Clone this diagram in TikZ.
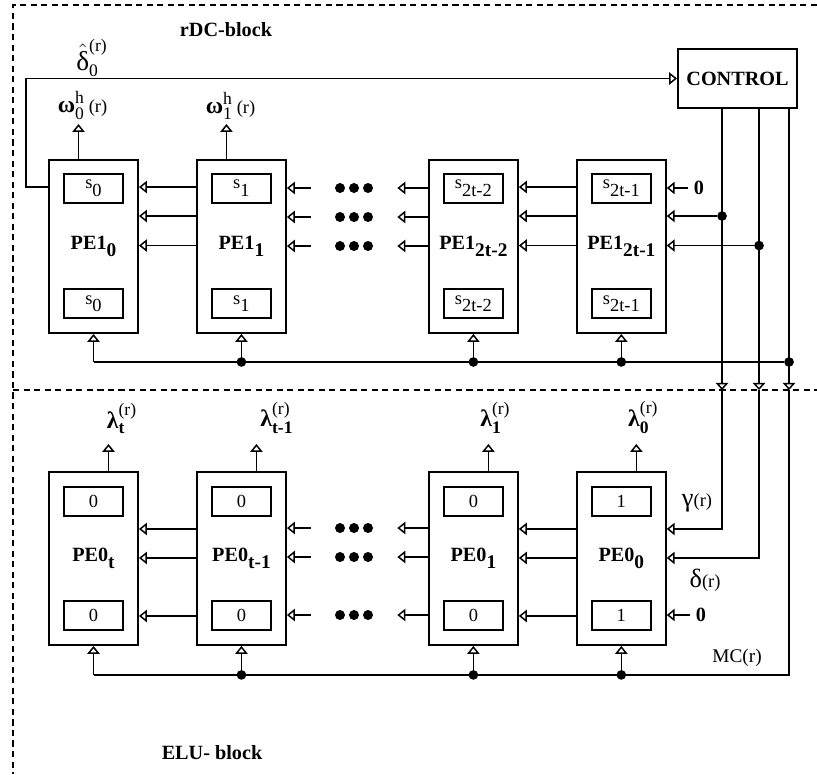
\documentclass[tikz,border=0pt]{standalone}
\usepackage{amsmath}
\usepackage{fontspec}
\setmainfont{Liberation Serif}
\usetikzlibrary{arrows.meta,positioning,calc}

\newcommand{\sreg}[1]{s\raisebox{-0.4em}{#1}}
\newcommand{\pesub}[1]{\raisebox{-0.35em}{\fontsize{11}{13}\selectfont#1}}
\newcommand{\scr}[1]{\text{\fontsize{10}{12}\selectfont#1}}

\begin{document}
\begin{tikzpicture}[
  x=0.2mm, y=-0.2mm,
  node distance=11.4mm and 11.4mm,
  pe/.style={draw,line width=1.1pt,minimum width=17.8mm,minimum height=34.6mm,inner sep=0pt,font=\bfseries\fontsize{11.5}{13}\selectfont},
  cell/.style={draw,line width=0.9pt,minimum width=11.8mm,minimum height=5.8mm,inner sep=0pt,font=\fontsize{10.5}{12}\selectfont},
  ctlbox/.style={draw,line width=1.1pt,minimum width=23.8mm,minimum height=11.8mm,inner sep=0pt,font=\bfseries\fontsize{11.5}{13}\selectfont},
  arr/.style={-{Triangle[open,length=4.5pt,width=7pt]},line width=0.85pt},
  darr/.style={-{Triangle[open,length=4pt,width=7pt]},line width=0.85pt},
  gap/.style={minimum width=17.2mm,minimum height=3mm,inner sep=0pt,
    path picture={\foreach \k in {-1,0,1} \fill ([xshift=\k*2.8mm]path picture bounding box.center) circle (1mm);}},
  jdot/.style={circle,fill,inner sep=0pt,minimum size=5.5pt},
  blk/.style={line width=0.6pt,dash pattern=on 3.5pt off 2.5pt},
  lab/.style={inner sep=1pt,font=\bfseries\fontsize{11.5}{13}\selectfont},
  greek/.style={inner sep=0pt,font=\fontsize{13.5}{15}\selectfont},
  note/.style={inner sep=0pt,font=\fontsize{11}{13}\selectfont}
]
  \useasboundingbox (0,0) rectangle (817,774);

  % block borders
  \draw[blk] (817,5) -- (13,5) -- (13,774);
  \coordinate (mid) at (0,390);
  \draw[blk] (13,390) -- (817,390);
  \node[lab] (rdc) at (226,30) {rDC-block};
  \node[lab] (elu) at (212,753) {ELU- block};

  % rDC row
  \node[pe] (p10) at (93.5,246.5) {PE1\pesub{0}};
  \node[pe, right=of p10] (p11) {PE1\pesub{1}};
  \node[pe, right=28.2mm of p11] (p12) {PE1\pesub{2t-2}};
  \node[pe, right=of p12] (p13) {PE1\pesub{2t-1}};
  \foreach \n/\v in {p10/0,p11/1,p12/2t-2,p13/2t-1}{
    \node[cell, below=2.8mm of \n.north] (\n-a) {\sreg{\v}};
    \node[cell, above=3mm of \n.south] (\n-b) {\sreg{\v}};
  }
  \node[ctlbox] (ctl) at (737.5,78.5) {CONTROL};

  % ELU row
  \node[pe, below=27.4mm of p10] (p0t) {PE0\pesub{t}};
  \node[pe, right=of p0t] (p0s) {PE0\pesub{t-1}};
  \node[pe, right=28.2mm of p0s] (p01) {PE0\pesub{1}};
  \node[pe, right=of p01] (p00) {PE0\pesub{0}};
  \foreach \n/\v in {p0t/0,p0s/0,p01/0,p00/1}{
    \node[cell, below=3mm of \n.north] (\n-a) {\v};
    \node[cell, above=3mm of \n.south] (\n-b) {\v};
  }

  % links between neighbours
  \foreach \a/\b in {p11/p10,p13/p12}
    \foreach \d in {5.6,11.4,17.3}
      \draw[arr] ([yshift=-\d mm]\a.north west) -- ([yshift=-\d mm]\b.north east);
  \foreach \a/\b in {p0s/p0t,p00/p01}
    \foreach \d in {11.6,17.4,29}
      \draw[arr] ([yshift=-\d mm]\a.north west) -- ([yshift=-\d mm]\b.north east);
  \foreach \y [count=\i] in {188,217,246}{
    \node[gap] (ga\i) at (354,\y) {};
    \draw[arr] (ga\i.west) -- (ga\i.west -| p11.east);
    \draw[arr] (ga\i.east -| p12.west) -- (ga\i.east);
  }
  \foreach \y [count=\i] in {528,557,615}{
    \node[gap] (gb\i) at (354,\y) {};
    \draw[arr] (gb\i.west) -- (gb\i.west -| p0s.east);
    \draw[arr] (gb\i.east -| p01.west) -- (gb\i.east);
  }

  % outputs
  \foreach \n/\i in {p10/0,p11/1}{
    \coordinate (w\i) at ([xshift=-3mm,yshift=7mm]\n.north);
    \draw[arr] (w\i |- \n.north) -- (w\i);
    \node[greek, anchor=south west, xshift=-4.2mm, yshift=0.8mm] (lw\i) at (w\i)
      {$\text{\textbf{ω}}^{\scr{h}}_{\scr{\i}}$\,{\fontsize{10.5}{12}\selectfont(r)}};
  }
  \foreach \n/\s/\dx in {p0t/t/2.7,p0s/t-1/4.1,p01/1/1.4,p00/0/1.4}{
    \coordinate (l\n) at ([xshift=3mm,yshift=5.4mm]\n.north);
    \draw[arr] (l\n |- \n.north) -- (l\n);
    \node[greek, above=2mm of l\n, xshift=\dx mm] (ll\n)
      {$\text{\textbf{λ}}_{\scr{\textbf{\s}}}^{\scr{(r)}}$};
  }

  % feedback to control
  \draw[arr] ([yshift=-5.6mm]p10.north west) -- ++(-4.4mm,0) |- (ctl.west);
  \node[greek, font=\fontsize{15.5}{17}\selectfont] (dhat) at (92,58)
    {$\hat{\text{δ}}_{\scr{0}}^{\scr{(r)}}$};

  % control lines
  \coordinate (c1) at ([xshift=9mm]ctl.south west);
  \coordinate (c2) at ([xshift=16.4mm]ctl.south west);
  \coordinate (c3) at ([xshift=22.4mm]ctl.south west);
  \coordinate (i1) at ([yshift=-11.4mm]p13.north east);
  \coordinate (i2) at ([yshift=-17.3mm]p13.north east);
  \coordinate (k1) at ([yshift=-11.6mm]p00.north east);
  \coordinate (k2) at ([yshift=-17.4mm]p00.north east);
  \foreach \c in {c1,c2,c3}
    \draw[darr] (\c) -- (\c |- mid);
  \node[jdot] (j1) at (c1 |- i1) {};
  \node[jdot] (j2) at (c2 |- i2) {};
  \draw[arr] (j1) -- (i1);
  \draw[arr] (j2) -- (i2);
  \draw[arr] (c1 |- mid) -- (c1 |- k1) -- (k1);
  \draw[arr] (c2 |- mid) -- (c2 |- k2) -- (k2);
  \node[lab, inner sep=3pt] (z1) at (699,188) {0};
  \draw[arr] (z1) -- (z1 -| p13.east);
  \node[lab, inner sep=3pt] (z2) at (701,615) {0};
  \draw[arr] (z2) -- (z2 -| p00.east);
  \node[note] (gam) at (697,503) {\fontsize{15}{16}\selectfont γ\fontsize{10.5}{11}\selectfont(r)};
  \node[note] (del) at (705,580) {\fontsize{15}{16}\selectfont δ\fontsize{10.5}{11}\selectfont(r)};

  % buses
  \coordinate (ub) at ([yshift=-5.6mm]p10.south);
  \coordinate (lb) at ([yshift=-5.8mm]p0t.south);
  \node[jdot] (j3) at (c3 |- ub) {};
  \draw[line width=0.85pt] (ub) -- (j3);
  \draw[line width=0.85pt] (c3 |- mid) -- (c3 |- lb) -- (lb);
  \foreach \n in {p10,p11,p12,p13}
    \draw[arr] (\n.south |- ub) -- (\n.south);
  \foreach \n in {p0t,p0s,p01,p00}
    \draw[arr] (\n.south |- lb) -- (\n.south);
  \foreach \n in {p11,p12,p13}
    \node[jdot] (u\n) at (\n.south |- ub) {};
  \foreach \n in {p0s,p01,p00}
    \node[jdot] (u\n) at (\n.south |- lb) {};
  \node[note] (mc) at (737,658) {MC(r)};
\end{tikzpicture}
\end{document}
